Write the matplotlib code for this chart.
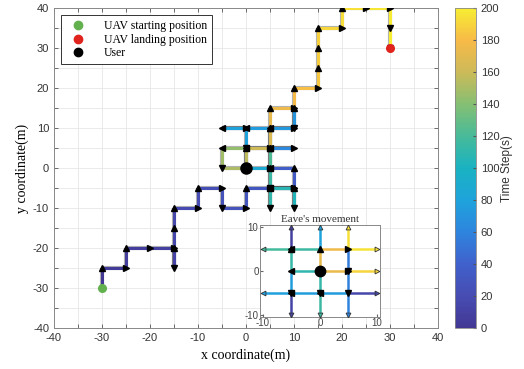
import numpy as np
import matplotlib
matplotlib.use("Agg")
import matplotlib.pyplot as plt
import matplotlib.patheffects as pe
from matplotlib.collections import LineCollection
from matplotlib.colors import LinearSegmentedColormap, Normalize
from matplotlib.lines import Line2D

# UAV waypoints (m) and time step at each waypoint
path_x = [-30, -30, -25, -25, -20, -15, -15, -15, -15, -15, -10, -10, -5, -5, 0, 0, 5, 10, 10, 5,
          5, 10, 5, 5, 10, 10, 10, 5, 0, -5, 0, 0, 0, 5, 5, 10, 10, 10, 5, 5, 5, 5, 5, 0, -5, -5, 0,
          0, 5, 5, 5, 10, 10, 15, 15, 15, 15, 20, 20, 25, 30, 30, 30]
path_y = [-30, -25, -25, -20, -20, -20, -25, -20, -15, -10, -10, -5, -5, -10, -10, -5, -5, -5, 0, 0,
          5, 5, 5, 10, 10, 15, 10, 10, 10, 10, 10, 5, 0, 0, -5, -5, -10, -5, -5, -10, -5, 0, 5, 5, 5, 0, 0,
          5, 5, 10, 15, 15, 20, 20, 25, 30, 35, 35, 40, 40, 40, 35, 30]
path_t = [0, 2, 4, 6, 8, 10, 12, 14, 16, 18, 20, 22, 24, 26, 28, 30, 32, 34, 36, 38,
          50, 62, 64, 66, 68, 70, 72, 74, 76, 78, 80, 78, 84, 90, 95, 99, 103, 106, 108, 110, 113, 118, 126, 142, 146, 150, 153,
          158, 164, 170, 174, 177, 180, 183, 186, 188, 190, 192, 194, 196, 198, 199, 200]

start_pos = (-30, -30)
land_pos = (30, 30)
user_pos = (0, 0)

# Eve's movement segments (start -> end) and time step
eve_x0 = [-5, -5, 5, 5, 5, 5, 5, 0, -5, -5, 0, 0, 0, 0, -5, -5, 0, 0, 0, 0, 5, 5, 5]
eve_y0 = [5, -5, -5, 5, 0, -5, -5, -5, -5, 0, 5, 0, -5, 0, 0, 5, 5, 0, 5, 0, 5, 5, 0]
eve_x1 = [-5, -5, 10, 5, 5, 5, 0, -5, -10, -5, 0, 0, 0, -5, -5, -10, -5, 0, 5, 5, 5, 10, 10]
eve_y1 = [10, -10, -5, 0, -5, -10, -5, -5, -5, -5, 10, -5, -10, 0, 5, 5, 5, 5, 5, 0, 10, 5, 0]
eve_t = [8, 12, 15, 55, 58, 60, 74, 76, 78, 76, 80, 112, 115, 110, 113, 118, 116, 172, 176, 174, 195, 196, 190]

cbar_ticks = list(range(0, 201, 20))

# parula-like colours as they look in the printed colorbar (0, 20, ..., 200)
cmap_colors = [(0.26, 0.22, 0.58), (0.28, 0.30, 0.70), (0.25, 0.38, 0.80), (0.18, 0.52, 0.87),
               (0.12, 0.64, 0.86), (0.10, 0.70, 0.76), (0.28, 0.73, 0.60), (0.52, 0.75, 0.45),
               (0.80, 0.73, 0.35), (0.97, 0.73, 0.28), (0.97, 0.93, 0.20)]
parula = LinearSegmentedColormap.from_list("parula", cmap_colors)
norm = Normalize(0, 200)

serif = "Liberation Serif"
sans = "Liberation Sans"
plt.rcParams["font.family"] = sans


def arrow_marker(dx, dy):
    if dx > 0:
        return '>'
    if dx < 0:
        return '<'
    if dy > 0:
        return '^'
    return 'v'


fig = plt.figure(figsize=(5.24, 3.69), dpi=100)
ax = fig.add_axes([0.103, 0.111, 0.733, 0.867])

# trajectory coloured by time
pts = np.column_stack([path_x, path_y]).astype(float)
segs = np.stack([pts[:-1], pts[1:]], axis=1)
seg_t = (np.array(path_t[:-1]) + np.array(path_t[1:])) / 2.0
lc = LineCollection(segs, cmap=parula, norm=norm, linewidths=2.2, zorder=3)
lc.set_array(seg_t)
lc.set_path_effects([pe.Stroke(linewidth=3.0, foreground=(0, 0, 0, 0.3)), pe.Normal()])
ax.add_collection(lc)

# direction arrows at each waypoint
for i in range(1, len(path_x)):
    m = arrow_marker(path_x[i] - path_x[i - 1], path_y[i] - path_y[i - 1])
    ax.plot(path_x[i], path_y[i], marker=m, color='k', ms=4.6, zorder=4)

ax.plot(*start_pos, 'o', color='#62b04e', ms=5.5, zorder=5)
ax.plot(*land_pos, 'o', color='#e0231c', ms=5.5, zorder=5)
ax.plot(*user_pos, 'o', color='k', ms=8, zorder=5)

ax.set_xlim(-40, 40)
ax.set_ylim(-40, 40)
ax.set_xticks(np.arange(-40, 41, 5))
ax.set_yticks(np.arange(-40, 41, 5))
ax.set_xticklabels([str(v) if v % 10 == 0 else '' for v in range(-40, 41, 5)])
ax.set_yticklabels([str(v) if v % 10 == 0 else '' for v in range(-40, 41, 5)])
ax.tick_params(direction='in', top=True, right=True, length=3, labelsize=8,
               labelcolor='#333333', color='#555555', width=0.6)
ax.grid(True, color='#e6e6e6', linewidth=0.6)
ax.set_axisbelow(True)
for s in ax.spines.values():
    s.set_color('#888888')
    s.set_linewidth(0.7)
ax.set_xlabel('x coordinate(m)', family=serif, fontsize=10, labelpad=4)
ax.set_ylabel('y coordinate(m)', family=serif, fontsize=10, labelpad=3)

handles = [
    Line2D([], [], ls='', marker='o', color='#62b04e', ms=6),
    Line2D([], [], ls='', marker='o', color='#e0231c', ms=6),
    Line2D([], [], ls='', marker='o', color='k', ms=6),
]
leg = ax.legend(handles, ['UAV starting position', 'UAV landing position', 'User'],
                loc='upper left', prop={'family': serif, 'size': 8.5}, fancybox=False,
                edgecolor='#333333', framealpha=1, borderaxespad=0.6, handletextpad=1.2,
                labelspacing=0.15, borderpad=0.4)
leg.get_frame().set_linewidth(0.7)

# colorbar
cax = fig.add_axes([0.868, 0.111, 0.040, 0.867])
sm = plt.cm.ScalarMappable(norm=norm, cmap=parula)
cb = fig.colorbar(sm, cax=cax, ticks=cbar_ticks)
cb.outline.set_edgecolor('#888888')
cb.outline.set_linewidth(0.6)
cax.tick_params(direction='in', length=2.5, labelsize=8, labelcolor='#333333', color='#555555')
cb.set_label('Time Step(s)', fontsize=8.5, labelpad=1, color='#333333')

# inset: Eve's movement
ins = fig.add_axes([0.496, 0.141, 0.229, 0.249])
ins.set_facecolor('white')
eseg = [[(eve_x0[k], eve_y0[k]), (eve_x1[k], eve_y1[k])] for k in range(len(eve_t))]
elc = LineCollection(eseg, cmap=parula, norm=norm, linewidths=1.8, zorder=3)
elc.set_array(np.array(eve_t, dtype=float))
ins.add_collection(elc)
for k in range(len(eve_t)):
    m = arrow_marker(eve_x1[k] - eve_x0[k], eve_y1[k] - eve_y0[k])
    if abs(eve_x1[k]) == 10 or abs(eve_y1[k]) == 10:
        ins.plot(eve_x1[k], eve_y1[k], marker=m, color=parula(norm(eve_t[k])),
                 mec='#333333', mew=0.6, ms=3.5, zorder=4)
    else:
        ins.plot(eve_x1[k], eve_y1[k], marker=m, color='k', ms=4.5, zorder=4)
ins.plot(*user_pos, 'o', color='k', ms=7.5, zorder=5)
ins.set_xlim(-10.5, 10.5)
ins.set_ylim(-10.5, 10.5)
ins.set_xticks([-10, -5, 0, 5, 10])
ins.set_yticks([-10, -5, 0, 5, 10])
ins.set_xticklabels(['-10', '', '0', '', '10'])
ins.set_yticklabels(['-10', '', '0', '', '10'])
ins.tick_params(direction='in', length=2, labelsize=7, labelcolor='#444444', color='#666666', pad=1)
for s in ins.spines.values():
    s.set_color('#888888')
    s.set_linewidth(0.7)
ins.set_title("Eave's movement", family=serif, fontsize=8, pad=2, color='#333333')

fig.savefig('out.png', dpi=100)
